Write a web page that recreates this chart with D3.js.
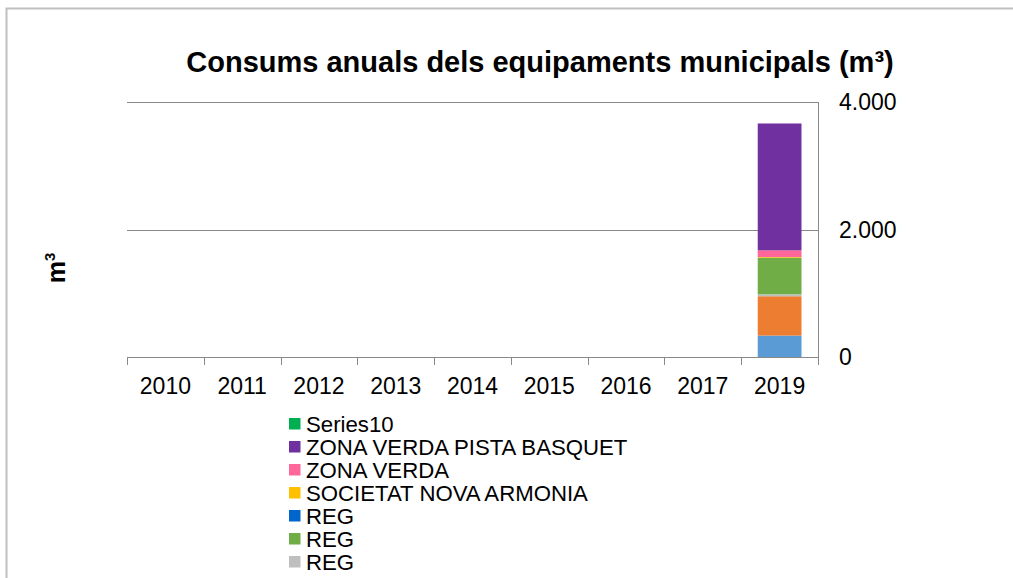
<!DOCTYPE html>
<html>
<head>
<meta charset="utf-8">
<script src="https://cdn.jsdelivr.net/npm/d3@7/dist/d3.min.js"></script>
<style>
  html, body { margin: 0; padding: 0; background: #fff; }
  svg { display: block; font-family: "Liberation Sans", Arial, sans-serif; }
</style>
</head>
<body>
<svg id="chart" width="1013" height="578"></svg>
<script>
// Years on the category axis
const years = ["2010", "2011", "2012", "2013", "2014", "2015", "2016", "2017", "2019"];

// Series, bottom of the stack first (m³ per year)
const seriesNames = ["REG A", "REG B", "REG C", "REG D", "REG E",
  "SOCIETAT NOVA ARMONIA", "ZONA VERDA", "ZONA VERDA PISTA BASQUET", "Series10"];
const seriesColors = ["#5B9BD5", "#ED7D31", "#BFBFBF", "#70AD47", "#0066CC",
  "#FFC000", "#FF6699", "#7030A0", "#00B050"];

const regA      = [0, 0, 0, 0, 0, 0, 0, 0, 336];
const regB      = [0, 0, 0, 0, 0, 0, 0, 0, 617];
const regC      = [0, 0, 0, 0, 0, 0, 0, 0, 30];
const regD      = [0, 0, 0, 0, 0, 0, 0, 0, 575];
const regE      = [0, 0, 0, 0, 0, 0, 0, 0, 0];
const societat  = [0, 0, 0, 0, 0, 0, 0, 0, 10];
const zonaVerda = [0, 0, 0, 0, 0, 0, 0, 0, 105];
const zonaPista = [0, 0, 0, 0, 0, 0, 0, 0, 1990];
const series10  = [0, 0, 0, 0, 0, 0, 0, 0, 0];
const seriesValues = [regA, regB, regC, regD, regE, societat, zonaVerda, zonaPista, series10];

// Legend entries (top to bottom) and their labels
const legendIndex = [8, 7, 6, 5, 4, 3, 2];
const legendLabels = ["Series10", "ZONA VERDA PISTA BASQUET", "ZONA VERDA",
  "SOCIETAT NOVA ARMONIA", "REG", "REG", "REG"];

const yTicks = [0, 2000, 4000];
const yTickLabels = ["0", "2.000", "4.000"];

const title = "Consums anuals dels equipaments municipals (m³)";

const svg = d3.select("#chart");

// Chart frame
svg.append("rect")
  .attr("x", 6.5).attr("y", 8.5)
  .attr("width", 1020).attr("height", 600)
  .attr("fill", "none").attr("stroke", "#c0c0c0").attr("stroke-width", 2);

const plot = { left: 127, right: 818, top: 102, bottom: 357 };

const x = d3.scaleBand().domain(years).range([plot.left, plot.right]).paddingInner(0.43).paddingOuter(0.215);
const xb = d3.scaleBand().domain(years).range([plot.left, plot.right]);
const y = d3.scaleLinear().domain([0, 4000]).range([plot.bottom, plot.top]);

// Gridlines
svg.append("g").selectAll("line")
  .data(yTicks.filter(d => d > 0))
  .join("line")
  .attr("x1", plot.left).attr("x2", plot.right)
  .attr("y1", d => Math.round(y(d)) + 0.5).attr("y2", d => Math.round(y(d)) + 0.5)
  .attr("stroke", "#898989").attr("stroke-width", 1);

// Stacked bars
const table = years.map((yr, i) => {
  const row = { year: yr };
  seriesNames.forEach((n, k) => row[n] = seriesValues[k][i]);
  return row;
});
const stacked = d3.stack().keys(seriesNames)(table);

svg.append("g").selectAll("g")
  .data(stacked)
  .join("g")
  .attr("fill", (d, i) => seriesColors[i])
  .selectAll("rect")
  .data(d => d)
  .join("rect")
  .attr("x", d => x(d.data.year))
  .attr("width", x.bandwidth())
  .attr("y", d => y(d[1]))
  .attr("height", d => y(d[0]) - y(d[1]));

// Category axis with ticks between categories
const xAxisG = svg.append("g");
xAxisG.append("line")
  .attr("x1", plot.left).attr("x2", plot.right)
  .attr("y1", plot.bottom + 0.5).attr("y2", plot.bottom + 0.5)
  .attr("stroke", "#898989");
const boundaries = years.map(d => xb(d)).concat([plot.right]);
xAxisG.selectAll("line.tick")
  .data(boundaries)
  .join("line")
  .attr("class", "tick")
  .attr("x1", d => Math.round(d) + 0.5).attr("x2", d => Math.round(d) + 0.5)
  .attr("y1", plot.bottom).attr("y2", plot.bottom + 8)
  .attr("stroke", "#898989");
xAxisG.selectAll("text")
  .data(years)
  .join("text")
  .attr("x", d => xb(d) + xb.bandwidth() / 2)
  .attr("y", 394)
  .attr("text-anchor", "middle")
  .attr("font-size", 23)
  .attr("fill", "#000")
  .text(d => d);

// Value axis on the right
svg.append("line")
  .attr("x1", plot.right + 0.5).attr("x2", plot.right + 0.5)
  .attr("y1", plot.top).attr("y2", plot.bottom)
  .attr("stroke", "#898989");
svg.append("g").selectAll("text")
  .data(yTicks)
  .join("text")
  .attr("x", 839)
  .attr("y", d => y(d))
  .attr("dy", "0.36em")
  .attr("font-size", 23)
  .attr("fill", "#000")
  .text((d, i) => yTickLabels[i]);

// Title
svg.append("text")
  .attr("x", 540).attr("y", 72)
  .attr("text-anchor", "middle")
  .attr("font-size", 29)
  .attr("font-weight", "bold")
  .text(title);

// Axis title
const yt = svg.append("text")
  .attr("transform", "translate(65,268) rotate(-90)")
  .attr("text-anchor", "middle")
  .attr("font-size", 25)
  .attr("font-weight", "bold");
yt.append("tspan").text("m");
yt.append("tspan").attr("dy", -10).attr("font-size", 15).text("3");

// Legend
const legend = svg.append("g").selectAll("g")
  .data(legendIndex)
  .join("g")
  .attr("transform", (d, i) => `translate(289, ${418 + i * 23})`);
legend.append("rect")
  .attr("width", 11.5).attr("height", 11.5)
  .attr("fill", d => seriesColors[d]);
legend.append("text")
  .attr("x", 17).attr("y", 13.5)
  .attr("font-size", 22.2)
  .attr("fill", "#000")
  .text((d, i) => legendLabels[i]);
</script>
</body>
</html>
